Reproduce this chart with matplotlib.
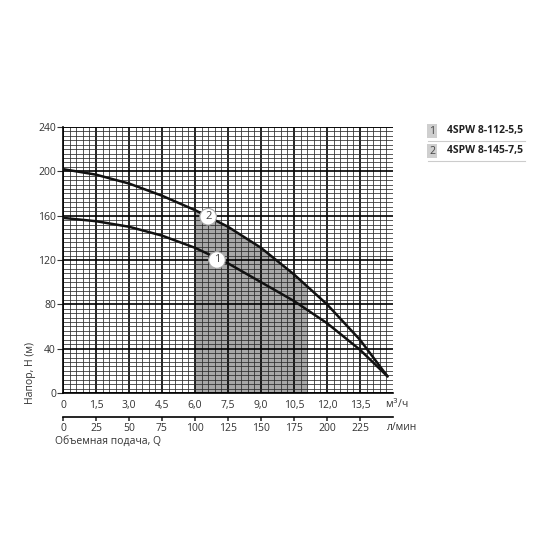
import matplotlib
matplotlib.use("Agg")
import matplotlib.pyplot as plt
import numpy as np
from matplotlib.ticker import MultipleLocator, FixedLocator

plt.rcParams['font.family'] = ['Open Sans', 'DejaVu Sans']

# Data
q_m3h = [0, 1.5, 3.0, 4.5, 6.0, 7.5, 9.0, 10.5, 12.0, 13.5, 14.75]
h_pump1 = [158, 155, 150, 142, 131, 117, 100, 83, 63, 39, 15]
h_pump2 = [202, 197, 189, 178, 165, 150, 131, 107, 80, 48, 15]
pump_names = ["4SPW 8-112-5,5", "4SPW 8-145-7,5"]
work_range = [6.0, 11.1]   # m3/h
x_ticks = [0, 1.5, 3.0, 4.5, 6.0, 7.5, 9.0, 10.5, 12.0, 13.5]
x_tick_labels = ["0", "1,5", "3,0", "4,5", "6,0", "7,5", "9,0", "10,5", "12,0", "13,5"]
lmin_ticks = [0, 25, 50, 75, 100, 125, 150, 175, 200, 225]
y_ticks = [0, 40, 80, 120, 160, 200, 240]

fig = plt.figure(figsize=(5.5, 5.5), dpi=100)
ax = fig.add_axes([0.1145, 0.2855, 0.6, 0.4836])
ax.set_xlim(0, 15)
ax.set_ylim(0, 240)

# shaded operating range under curve 2
inner = [q for q in q_m3h if work_range[0] < q < work_range[1]]
xs = [work_range[0]] + inner + [work_range[1]]
ys = list(np.interp(xs, q_m3h, h_pump2))
ax.fill_between(xs, 0, ys, color='#a8a8a8', zorder=0.3, linewidth=0)

# grid
ax.xaxis.set_major_locator(FixedLocator(x_ticks))
ax.xaxis.set_minor_locator(MultipleLocator(0.3))
ax.yaxis.set_major_locator(FixedLocator(y_ticks))
ax.yaxis.set_minor_locator(MultipleLocator(4))
ax.set_axisbelow(True)
ax.grid(which='minor', color='#2a2a2a', linewidth=0.55)
ax.grid(which='major', color='#000000', linewidth=1.2)
ax.axvline(15, color='#2a2a2a', linewidth=0.55, zorder=0.5)
ax.axhline(240, color='#2a2a2a', linewidth=0.55, zorder=0.5)

for s in ax.spines.values():
    s.set_visible(False)
ax.spines['left'].set_visible(True)
ax.spines['bottom'].set_visible(True)
ax.spines['left'].set_linewidth(1.2)
ax.spines['bottom'].set_linewidth(1.2)

ax.set_xticklabels(x_tick_labels)
ax.tick_params(axis='both', which='minor', length=0)
ax.tick_params(axis='y', which='major', length=4, width=0.8, labelsize=7.5,
               colors='#333333', pad=1)
ax.tick_params(axis='x', which='major', length=0, labelsize=7.5,
               colors='#333333', pad=5)

# curves
ax.plot(q_m3h, h_pump1, color='#111111', linewidth=1.8, zorder=3, solid_capstyle='round')
ax.plot(q_m3h, h_pump2, color='#111111', linewidth=1.8, zorder=3, solid_capstyle='round')

# curve labels
ax.text(7.0, 120, "1", ha='center', va='center', fontsize=8,
        color='#444444', zorder=4,
        bbox=dict(boxstyle='circle,pad=0.25', fc='white', ec='#aaaaaa', lw=0.8))
ax.text(6.6, 159, "2", ha='center', va='center', fontsize=8,
        color='#444444', zorder=4,
        bbox=dict(boxstyle='circle,pad=0.25', fc='white', ec='#aaaaaa', lw=0.8))

fig.text(385 / 550, 1 - 404 / 550, "м$^3$/ч", fontsize=7.5, color='#333333',
         va='center', ha='left')

# secondary l/min axis
ax2 = fig.add_axes([0.1145, 0.2418, 0.6, 0.0001])
ax2.set_xlim(0, 15 * 1000 / 60)
ax2.set_ylim(0, 1)
for s in ['top', 'left', 'right']:
    ax2.spines[s].set_visible(False)
ax2.spines['bottom'].set_linewidth(1.2)
ax2.set_yticks([])
ax2.set_xticks(lmin_ticks)
ax2.set_xticklabels([str(v) for v in lmin_ticks])
ax2.tick_params(axis='x', length=3, width=1.2, labelsize=7.5, colors='#333333', pad=1)
ax2.patch.set_visible(False)

fig.text(387 / 550, 1 - 428 / 550, "л/мин", fontsize=7.5, color='#333333',
         va='center', ha='left')
fig.text(55 / 550, 1 - 441 / 550, "Объемная подача, Q", fontsize=7.5, color='#333333',
         va='center', ha='left')
fig.text(30 / 550, 1 - 373 / 550, "Напор, H (м)", fontsize=7.5, color='#333333',
         va='center', ha='center', rotation=90)

# legend
for i, (name, yy) in enumerate(zip(pump_names, [131, 151])):
    fig.text(432 / 550, 1 - yy / 550, str(i + 1), fontsize=7.5, color='#444444',
             va='center', ha='center',
             bbox=dict(boxstyle='square,pad=0.15', fc='#cfcfcf', ec='none'))
    fig.text(447 / 550, 1 - yy / 550, name, fontsize=7.5, color='#222222',
             va='center', ha='left', fontweight='bold')
    fig.add_artist(plt.Line2D([428 / 550, 525 / 550], [1 - (yy + 10) / 550] * 2,
                              color='#cccccc', linewidth=0.8))

fig.savefig("out.png", dpi=100, facecolor='white')
